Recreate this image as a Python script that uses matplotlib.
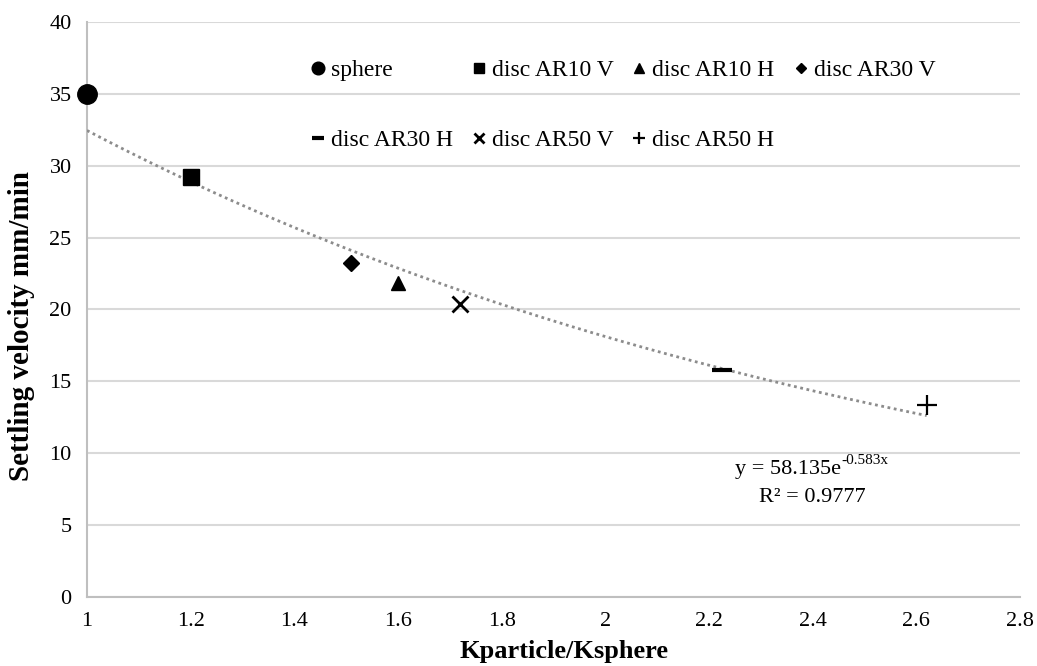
import matplotlib.pyplot as plt
import numpy as np

plt.rcParams['font.family'] = ['Liberation Serif', 'DejaVu Serif']

# Data
labels = ["sphere", "disc AR10 V", "disc AR10 H", "disc AR30 V",
          "disc AR30 H", "disc AR50 V", "disc AR50 H"]
k_ratio = [1.0, 1.2, 1.6, 1.51, 2.225, 1.72, 2.62]
velocity = [35.0, 29.2, 21.85, 23.2, 15.8, 20.35, 13.35]

# exponential trend line shown on the chart
fit_a = 58.135
fit_b = -0.583
fit_r2 = 0.9777

markers = ['o', 's', '^', 'D', '_', 'x', '+']
msizes = [14, 11, 10, 8, 14, 12, 14]
mews = [1, 1, 1, 1, 3, 2, 1.6]

fig = plt.figure(figsize=(10.37, 6.66), dpi=100)
ax = fig.add_axes([0.0839, 0.1036, 0.8997, 0.8634])

handles = []
for lab, xv, yv, m, ms, mw in zip(labels, k_ratio, velocity, markers, msizes, mews):
    h, = ax.plot([xv], [yv], linestyle='none', marker=m, markersize=ms,
                 markeredgewidth=mw, color='black', label=lab, zorder=4,
                 clip_on=False)
    handles.append(h)

xs = np.linspace(min(k_ratio), max(k_ratio), 200)
ax.plot(xs, fit_a * np.exp(fit_b * xs), color='#8c8c8c', lw=2,
        linestyle=(0, (1, 1.3)), zorder=3)

# trend line equation (hyphen kept as in the original)
eq = ax.text(2.25, 8.9, "y = %.3fe" % fit_a, ha='left', va='center', fontsize=16)
ax.annotate("%.3fx" % fit_b, xy=(1, 0.62), xycoords=eq, ha='left',
            va='bottom', fontsize=11)
ax.text(2.40, 6.9, "R² = %.4f" % fit_r2, ha='center', va='center', fontsize=16)

ax.set_xlim(1, 2.8)
ax.set_ylim(0, 40)
ax.set_xticks(np.arange(1, 2.81, 0.2))
ax.set_xticklabels(["1", "1.2", "1.4", "1.6", "1.8", "2", "2.2", "2.4", "2.6", "2.8"])
ax.set_yticks(range(0, 41, 5))
ax.tick_params(length=0, labelsize=16, pad=11)
ax.grid(axis='y', color='#d9d9d9', lw=1.5)
ax.set_axisbelow(True)
for s in ['top', 'right']:
    ax.spines[s].set_visible(False)
for s in ['left', 'bottom']:
    ax.spines[s].set_color('#bfbfbf')
    ax.spines[s].set_linewidth(1.5)

ax.set_xlabel("Kparticle/Ksphere", fontsize=19, fontweight='bold')
ax.xaxis.set_label_coords(0.511, -0.074)
ax.set_ylabel("Settling velocity mm/min", fontsize=21, fontweight='bold')
ax.yaxis.set_label_coords(-0.0557, 0.471)

order = [0, 4, 1, 5, 2, 6, 3]
ax.legend([handles[i] for i in order], [labels[i] for i in order], ncol=4,
          frameon=False, fontsize=17, markerscale=0.65, handlelength=0.6,
          handletextpad=0.25, columnspacing=0.8, labelspacing=2.08,
          loc='upper left', bbox_to_anchor=(0.217, 0.972))

fig.savefig("out.png", dpi=100)
